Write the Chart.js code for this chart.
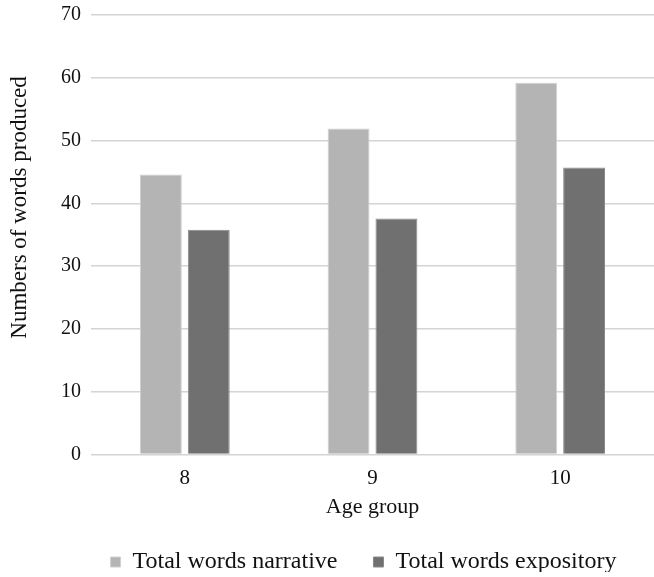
<!DOCTYPE html>
<html>
<head>
<meta charset="utf-8">
<script src="https://cdn.jsdelivr.net/npm/chart.js@4"></script>
<style>
  html, body { margin: 0; padding: 0; background: #fff; overflow: hidden; }
  #wrap { position: absolute; left: 0; top: -7px; width: 654px; height: 579px; }
</style>
</head>
<body>
<div id="wrap"><canvas id="chart"></canvas></div>
<script>
const ageGroups = ["8", "9", "10"];
const narrative = [44.6, 51.9, 59.2];
const expository = [35.8, 37.6, 45.7];
const yTitle = "Numbers of words produced";

const serif = "'Liberation Serif', 'DejaVu Serif', serif";

// y title sits a bit above the plot's middle in the original, so draw it ourselves
const yTitlePlugin = {
  id: "yTitle",
  afterLayout(chart) {
    // nudge the legend right, the original is not centred on the canvas
    chart.legend.left += 11;
    chart.legend.right += 11;
  },
  afterDraw(chart) {
    const { ctx, chartArea } = chart;
    ctx.save();
    ctx.translate(20, chartArea.top + (chartArea.bottom - chartArea.top) * 0.438);
    ctx.rotate(-Math.PI / 2);
    ctx.font = "23px " + serif;
    ctx.fillStyle = "#111";
    ctx.textAlign = "center";
    ctx.textBaseline = "middle";
    ctx.fillText(yTitle, 0, 0);
    ctx.restore();
  },
};

new Chart(document.getElementById("chart"), {
  type: "bar",
  data: {
    labels: ageGroups,
    datasets: [
      { label: "Total words narrative", data: narrative, backgroundColor: "#b4b4b4", borderColor: "#d0d0d0", borderWidth: 1 },
      { label: "Total words expository", data: expository, backgroundColor: "#707070", borderColor: "#8a8a8a", borderWidth: 1 },
    ],
  },
  plugins: [yTitlePlugin],
  options: {
    responsive: true,
    maintainAspectRatio: false,
    animation: false,
    layout: { padding: { top: 0, right: 0, left: 51, bottom: -12 } },
    datasets: { bar: { categoryPercentage: 0.51, barPercentage: 0.875 } },
    plugins: {
      legend: {
        position: "bottom",
        labels: { boxWidth: 10, boxHeight: 10, padding: 36, color: "#111", font: { family: serif, size: 24 } },
      },
      tooltip: { enabled: false },
    },
    scales: {
      x: {
        grid: { display: false },
        border: { display: false },
        ticks: { color: "#111", font: { family: serif, size: 21 }, padding: 3 },
        title: { display: true, text: "Age group", color: "#111", font: { family: serif, size: 22 }, padding: { top: 0, bottom: -6 } },
      },
      y: {
        min: 0,
        max: 70,
        ticks: { stepSize: 10, color: "#111", font: { family: serif, size: 20 }, padding: 10 },
        grid: { color: "#d4d4d4", lineWidth: 1.5, drawTicks: false },
        border: { display: false },
        title: { display: false },
      },
    },
  },
});
</script>
</body>
</html>
